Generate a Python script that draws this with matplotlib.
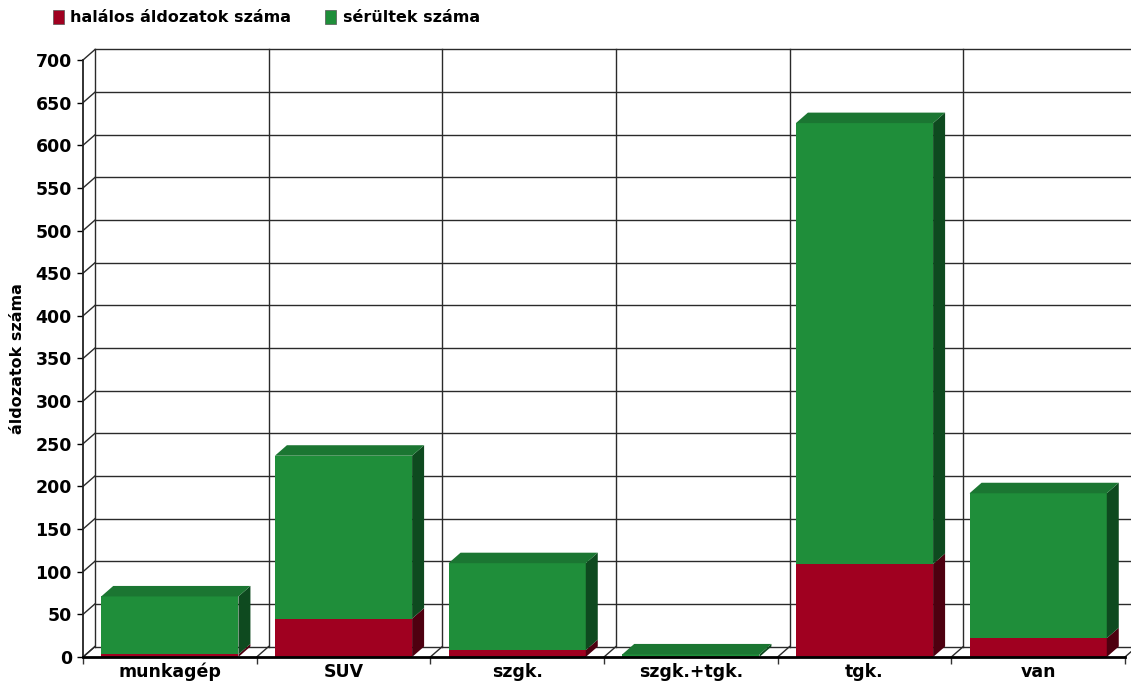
import numpy as np
import matplotlib.pyplot as plt
from matplotlib.patches import Polygon, Rectangle

plt.rcParams["font.family"] = "DejaVu Sans"
plt.rcParams["font.weight"] = "bold"

categories = ["munkagép", "SUV", "szgk.", "szgk.+tgk.", "tgk.", "van"]
deaths = [3, 45, 8, 0, 109, 22]
injured = [68, 191, 102, 3, 517, 170]
series_names = ["halálos áldozatok száma", "sérültek száma"]
yticks = np.arange(0, 701, 50)

front = {"red": "#a00020", "green": "#1f8e3a"}
top = {"red": "#7a0018", "green": "#1b7632"}
side = {"red": "#4e0010", "green": "#0e4a1f"}

W, H = 1131, 681
fig = plt.figure(figsize=(W / 100, H / 100), dpi=100)
x0_px, x1_px, y0_px, y1_px = 83, 1125, 657, 60
ax = fig.add_axes([x0_px / W, (H - y0_px) / H, (x1_px - x0_px) / W, (y0_px - y1_px) / H])

n = len(categories)
ax.set_xlim(0, n)
ax.set_ylim(0, 700)

# depth of the fake 3d box, in data units
px_x = n / (x1_px - x0_px)
px_y = 700 / (y0_px - y1_px)
dx = 12 * px_x
dy = 10.5 * px_y

grid_kw = dict(color="#2a2a2a", lw=1.0, clip_on=False, zorder=1)

# back wall: horizontal grid and category separators
for v in yticks:
    ax.plot([dx, n + dx], [v + dy, v + dy], **grid_kw)
    ax.plot([0, dx], [v, v + dy], **grid_kw)
for k in range(n + 1):
    ax.plot([k + dx, k + dx], [dy, 700 + dy], **grid_kw)
    ax.plot([k, k + dx], [0, dy], **grid_kw)


def box(x0, x1, y0, y1, c, draw_top):
    ax.add_patch(Rectangle((x0, y0), x1 - x0, y1 - y0, fc=front[c], ec="none",
                           clip_on=False, zorder=3))
    ax.add_patch(Polygon([(x1, y0), (x1 + dx, y0 + dy), (x1 + dx, y1 + dy), (x1, y1)],
                         closed=True, fc=side[c], ec="none", clip_on=False, zorder=3))
    if draw_top:
        ax.add_patch(Polygon([(x0, y1), (x1, y1), (x1 + dx, y1 + dy), (x0 + dx, y1 + dy)],
                             closed=True, fc=top[c], ec="none", clip_on=False, zorder=3))


width = 0.79
for i in range(n):
    left = i + (1 - width) / 2
    right = left + width
    d = deaths[i]
    t = deaths[i] + injured[i]
    if d > 0:
        box(left, right, 0, d, "red", False)
    box(left, right, d, t, "green", True)

for s in ["top", "right"]:
    ax.spines[s].set_visible(False)
ax.spines["left"].set_color("#222222")
ax.spines["left"].set_linewidth(1.3)
ax.spines["bottom"].set_color("black")
ax.spines["bottom"].set_linewidth(2)
ax.spines["left"].set_zorder(4)
ax.spines["bottom"].set_zorder(4)

ax.set_yticks(yticks)
ax.tick_params(axis="y", length=4, width=1, pad=4, labelsize=12.5, colors="black")
ax.set_xticks(range(n + 1))
ax.set_xticklabels([])
ax.tick_params(axis="x", which="major", length=5, width=1, color="#333333")
ax.set_xticks(np.arange(n) + 0.5, minor=True)
ax.set_xticklabels(categories, minor=True, fontsize=12.5)
ax.tick_params(axis="x", which="minor", length=0, pad=4)
for lab in ax.get_yticklabels() + ax.get_xticklabels(minor=True):
    lab.set_fontweight("bold")

ax.set_ylabel("áldozatok száma", fontsize=11.5, fontweight="bold")
ax.yaxis.set_label_coords((25 - x0_px) / (x1_px - x0_px), 0.5)

# legend along the top edge
for xs, xt, c, name in [(53, 70, "red", series_names[0]), (325, 343, "green", series_names[1])]:
    fig.patches.append(Rectangle((xs / W, (H - 24) / H), 11 / W, 13.5 / H, fc=front[c],
                                 ec="#555555", lw=0.5, transform=fig.transFigure))
    fig.text(xt / W, (H - 17.5) / H, name, fontsize=11.5, fontweight="bold", va="center")

fig.savefig("out.png", dpi=100)
